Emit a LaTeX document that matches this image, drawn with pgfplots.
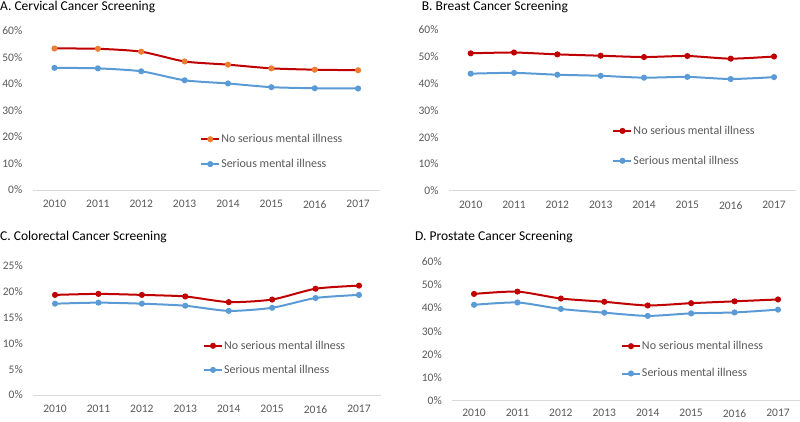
\documentclass[border=0pt]{standalone}
\usepackage{pgfplots}
\pgfplotsset{compat=1.18}
\usepackage{pgfplotstable}
\usepackage{fontspec}
\setmainfont{Carlito}
\definecolor{dred}{HTML}{C00000}
\definecolor{lblue}{HTML}{5B9BD5}
\definecolor{orng}{HTML}{ED7D31}
\definecolor{tgray}{HTML}{595959}
\definecolor{agray}{HTML}{D9D9D9}

\pgfplotstableread{
x nosmi smi
0 53.4 46.1
1 53.3 45.9
2 52.2 44.8
3 48.5 41.4
4 47.3 40.2
5 45.9 38.8
6 45.4 38.4
7 45.2 38.3
}\cervical
\pgfplotstableread{
x nosmi smi
0 51.3 43.7
1 51.6 44.0
2 50.9 43.3
3 50.4 42.9
4 49.9 42.2
5 50.3 42.5
6 49.3 41.7
7 50.1 42.4
}\breast
\pgfplotstableread{
x nosmi smi
0 19.4 17.7
1 19.6 17.9
2 19.4 17.7
3 19.1 17.3
4 18.0 16.3
5 18.5 16.9
6 20.6 18.8
7 21.2 19.4
}\colorectal
\pgfplotstableread{
x nosmi smi
0 46.1 41.4
1 47.1 42.4
2 44.1 39.6
3 42.7 38.0
4 41.1 36.6
5 42.1 37.7
6 42.9 38.1
7 43.7 39.3
}\prostate

\pgfplotsset{
 panel/.style={
  scale only axis,
  anchor=south west,
  xmin=-0.5, xmax=7.5,
  ymin=0,
  xtick={0,1,2,3,4,5,6,7},
  xticklabels={2010,2011,2012,2013,2014,2015,2016,2017},
  axis lines*=left,
  y axis line style={draw=none},
  x axis line style={agray, line width=0.75pt},
  major tick length=0pt,
  tick style={draw=none},
  tick label style={font=\fontsize{11.5}{13}\selectfont, text=tgray},
  xticklabel style={yshift=-7pt},
  yticklabel style={anchor=east, xshift=-7pt},
  /pgf/number format/assume math mode=true,
  yticklabel={\pgfmathprintnumber{\tick}\%},
  clip=false,
  legend cell align=left,
  legend style={draw=none, fill=none, inner sep=0pt, anchor=west,
    font=\fontsize{12}{14}\selectfont, text=tgray, nodes={inner sep=1pt}},
  legend image code/.code={\draw[##1, mark repeat=2, mark phase=2] plot coordinates {(0pt,0pt) (9pt,0pt) (18pt,0pt)};},
 },
 red/.style={dred, line width=2pt, mark=*, mark size=2pt, smooth, tension=0.4},
 blue/.style={lblue, line width=2pt, mark=*, mark size=2pt, mark options={fill=lblue, draw=lblue}, smooth, tension=0.4},
}

\begin{document}
\begin{tikzpicture}
\useasboundingbox (0,0) rectangle (800pt,421pt);
\node[anchor=base west, inner sep=0pt, font=\fontsize{13.5}{16}\selectfont] at (0pt,410.3pt) {A. Cervical Cancer Screening};
\node[anchor=base west, inner sep=0pt, font=\fontsize{13.5}{16}\selectfont] at (421.7pt,410.3pt) {B. Breast Cancer Screening};
\node[anchor=base west, inner sep=0pt, font=\fontsize{13.5}{16}\selectfont] at (0pt,180.3pt) {C. Colorectal Cancer Screening};
\node[anchor=base west, inner sep=0pt, font=\fontsize{13.5}{16}\selectfont] at (415pt,180.3pt) {D. Prostate Cancer Screening};

\begin{axis}[panel, at={(32.8pt,231pt)}, width=347pt, height=159pt, ymax=60,
  ytick={0,10,...,60},
  legend style={at={(0.482,0.241)}, row sep=13pt}]
\addplot[red, mark options={fill=orng, draw=orng}] table[x=x, y=nosmi] {\cervical};
\addlegendentry{No serious mental illness}
\addplot[blue] table[x=x, y=smi] {\cervical};
\addlegendentry{Serious mental illness}
\end{axis}

\begin{axis}[panel, at={(449pt,230.3pt)}, width=346.7pt, height=160.7pt, ymax=60,
  ytick={0,10,...,60},
  legend style={at={(0.471,0.279)}, row sep=18pt}]
\addplot[red, mark options={fill=dred, draw=dred}] table[x=x, y=nosmi] {\breast};
\addlegendentry{No serious mental illness}
\addplot[blue] table[x=x, y=smi] {\breast};
\addlegendentry{Serious mental illness}
\end{axis}

\begin{axis}[panel, at={(33.3pt,26pt)}, width=347.4pt, height=129pt, ymax=25,
  ytick={0,5,...,25},
  legend style={at={(0.488,0.288)}, row sep=12.3pt}]
\addplot[red, mark options={fill=dred, draw=dred}] table[x=x, y=nosmi] {\colorectal};
\addlegendentry{No serious mental illness}
\addplot[blue] table[x=x, y=smi] {\colorectal};
\addlegendentry{Serious mental illness}
\end{axis}

\begin{axis}[panel, at={(452.3pt,20.3pt)}, width=347.4pt, height=139pt, ymax=60,
  ytick={0,10,...,60},
  xticklabel style={yshift=2pt},
  legend style={at={(0.485,0.294)}, row sep=15.5pt}]
\addplot[red, mark options={fill=dred, draw=dred}] table[x=x, y=nosmi] {\prostate};
\addlegendentry{No serious mental illness}
\addplot[blue] table[x=x, y=smi] {\prostate};
\addlegendentry{Serious mental illness}
\end{axis}
\end{tikzpicture}
\end{document}
